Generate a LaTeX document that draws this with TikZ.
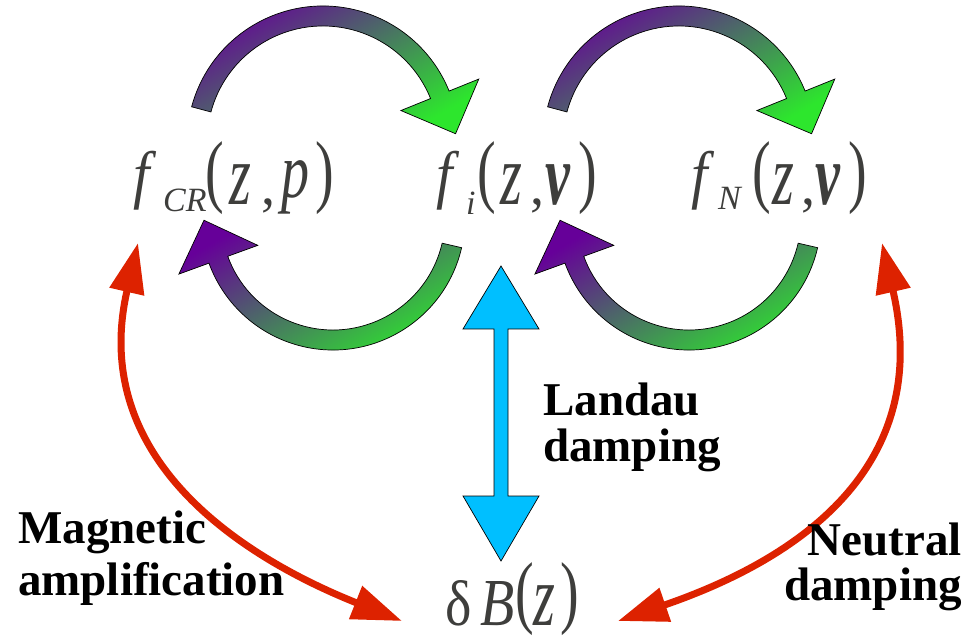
\documentclass[tikz,border=0pt]{standalone}
\usepackage{fontspec}
\setmainfont{Liberation Serif}
\usepackage{graphicx}
\usetikzlibrary{arrows.meta,calc}
\definecolor{txtgray}{RGB}{62,62,60}
\definecolor{arcpurple}{RGB}{102,0,153}
\definecolor{arcgreen}{RGB}{45,230,45}
\definecolor{redarr}{RGB}{221,34,0}
\definecolor{cyanarr}{RGB}{0,191,255}
\newcommand\mfont{\fontsize{56}{56}\selectfont}
\newcommand\subfont{\fontsize{34}{34}\selectfont}
\newcommand\gbox[2]{\makebox[#1pt][l]{#2}}
\newcommand\gf{\raisebox{8pt}{\scalebox{1.05}[1.15]{\itshape f}}}
\newcommand\gz{\scalebox{1}[1.55]{\itshape z}}
\newcommand\gp{\raisebox{7pt}{\scalebox{1}[1.4]{\itshape p}}}
\newcommand\gv{\scalebox{1}[1.55]{\bfseries\itshape v}}
\newcommand\gB{\scalebox{1}[1.2]{\itshape B}}
\newcommand\gd{\scalebox{1}[1.15]{δ}}
\newcommand\gl{\raisebox{7pt}{\scalebox{1}[1.44]{(}}}
\newcommand\gr{\raisebox{7pt}{\scalebox{1}[1.44]{)}}}
\newcommand\bandarrow[4]{%
  \draw[bandstyle] ($(#1)+({#3}:{#2+10})$)
    arc[start angle=#3,end angle=#4,radius={#2pt+10pt}]
    -- ($(#1)+({#4}:{#2+42})$)
    -- ($(#1)+({#4}:{#2})+({#4-90}:42)$)
    -- ($(#1)+({#4}:{#2-42})$)
    -- ($(#1)+({#4}:{#2-10})$)
    arc[start angle=#4,end angle=#3,radius={#2pt-10pt}]
    -- cycle;}
\tikzset{
  formula/.style={anchor=base west,inner sep=0pt,text=txtgray,font=\mfont},
  lbl/.style={inner sep=0pt,text=black,font=\bfseries\fontsize{47}{47}\selectfont},
  bandstyle/.style={draw=black,line width=0.7pt,top color=arcpurple,bottom color=arcgreen,shading angle=30},
  redstyle/.style={draw=redarr,line width=7pt,{Triangle[length=50pt,width=34pt]}-{Triangle[length=50pt,width=34pt]}},
  cyanstyle/.style={draw=black,line width=0.7pt,fill=cyanarr,line join=miter}
}
\begin{document}
\begin{tikzpicture}[x=1pt,y=1pt]
\useasboundingbox (0,0) rectangle (976,640);
% formulas
\node[formula] (fcr) at (133,435) {\gbox{30}{\gf}\gbox{42}{\raisebox{-7pt}{\subfont\itshape CR}}\gbox{24}{\gl}\gbox{32}{\gz}\gbox{20}{,}\gbox{34}{\gp}\gr};
\node[formula] (fi) at (436,435) {\gbox{30}{\gf}\gbox{11}{\raisebox{-10pt}{\subfont\itshape i}}\gbox{23}{\gl}\gbox{30}{\gz}\gbox{15}{,}\gbox{33}{\gv}\gr};
\node[formula] (fn) at (691,435) {\gbox{27}{\gf}\gbox{34}{\raisebox{-5pt}{\subfont\itshape N}}\gbox{20}{\gl}\gbox{29}{\gz}\gbox{14}{,}\gbox{33}{\gv}\gr};
\node[formula] (dB) at (445,15) {\gbox{35}{\gd}\gbox{35}{\gB}\gbox{18}{\gl}\gbox{27}{\gz}\gr};
% gradient cycle arrows
\coordinate (c1) at (323,498);
\coordinate (c2) at (679,498);
\coordinate (c3) at (333,422);
\coordinate (c4) at (689,422);
\bandarrow{c1}{126}{165}{22}
\bandarrow{c2}{126}{165}{22}
\bandarrow{c3}{122}{-13}{-160}
\bandarrow{c4}{122}{-13}{-160}
% cyan double arrow (Landau damping)
\coordinate (ct) at (501,374);
\coordinate (cb) at (501,79);
\draw[cyanstyle] (ct) -- ($(ct)+(38,-63)$) -- ($(ct)+(7,-63)$) -- ($(cb)+(7,65)$) -- ($(cb)+(38,65)$)
  -- (cb) -- ($(cb)+(-38,65)$) -- ($(cb)+(-7,65)$) -- ($(ct)+(-7,-63)$) -- ($(ct)+(-38,-63)$) -- cycle;
% red arrows
\coordinate (r1s) at (138,397);
\coordinate (r1e) at (402,19);
\coordinate (r2s) at (882,397);
\coordinate (r2e) at (618,19);
\draw[redstyle] (r1s) .. controls (88,180) and (244,82) .. (r1e);
\draw[redstyle] (r2s) .. controls (932,180) and (810,85) .. (r2e);
% labels
\node[lbl,anchor=base west] (land1) at (543,224) {Landau};
\node[lbl,anchor=base west] (land2) at (543,179) {damping};
\node[lbl,anchor=base west] (mag1) at (18,97) {Magnetic};
\node[lbl,anchor=base west] (mag2) at (18,45) {amplification};
\node[lbl,anchor=base east] (neu1) at (962,85) {Neutral};
\node[lbl,anchor=base east] (neu2) at (962,40) {damping};
\end{tikzpicture}
\end{document}
